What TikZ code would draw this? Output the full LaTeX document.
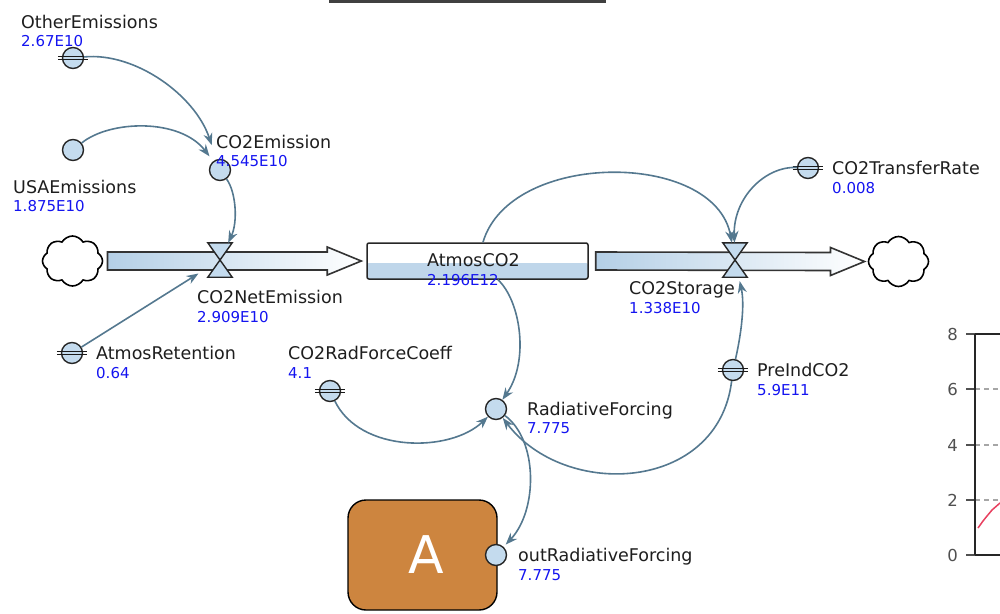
\documentclass[tikz,border=0pt]{standalone}
\usepackage{fontspec}
\setmainfont{DejaVu Sans}
\usetikzlibrary{shapes.symbols, arrows.meta, calc}

\definecolor{linkc}{HTML}{54788F}
\definecolor{auxfill}{HTML}{C4DBEE}
\definecolor{pipeblue}{HTML}{B4CFE6}
\definecolor{valc}{HTML}{1414F0}
\definecolor{txtc}{HTML}{1E1E1E}
\definecolor{modfill}{HTML}{CD853F}
\definecolor{plotred}{HTML}{E8405F}
\definecolor{axisc}{HTML}{505050}

\tikzset{
  aux/.style={circle, draw=black!85, line width=1.4pt, fill=auxfill, minimum size=21pt, inner sep=0pt},
  bars/.style={draw=black!90, line width=1.1pt},
  link/.style={draw=linkc, line width=1.6pt, -{Stealth[length=12pt,width=9pt]}},
  lbl/.style={anchor=base west, inner sep=0pt, text=txtc, font=\fontsize{17.5}{19}\selectfont},
  val/.style={anchor=base west, inner sep=0pt, text=valc, font=\fontsize{15}{17}\selectfont},
  cloudsym/.style={cloud, cloud puffs=8, cloud puff arc=120, aspect=1.2, draw=black, line width=1.6pt, fill=white, minimum width=60pt, minimum height=50pt, inner sep=0pt},
  valvebox/.style={rectangle, minimum width=24pt, minimum height=34pt, inner sep=0pt},
  valveglyph/.style={draw=black!85, line width=1.4pt, fill=auxfill, line join=miter},
  pipe/.style={draw=black!80, line width=1.6pt, left color=pipeblue, right color=white, line join=miter},
  stock/.style={rectangle, draw=black!85, line width=1.5pt, rounded corners=2pt, minimum width=221pt, minimum height=36pt, inner sep=0pt},
  ticklbl/.style={anchor=east, inner sep=0pt, text=axisc, font=\fontsize{16.5}{16}\selectfont},
}

% constant symbol: two horizontal bars across a circle
\newcommand\constbars[1]{%
  \draw[bars] ($(#1.west)+(-4,-1.7)$) -- ($(#1.east)+(4,-1.7)$);
  \draw[bars] ($(#1.west)+(-4,1.7)$) -- ($(#1.east)+(4,1.7)$);}

% flow pipe with arrow head, from centre-line start #1 to tip #2
\newcommand\flowpipe[2]{%
  \draw[pipe] ($(#1)+(0,-9)$) -- ($(#2)+(-34,-9)$) -- ($(#2)+(-34,-14)$) -- (#2)
    -- ($(#2)+(-34,14)$) -- ($(#2)+(-34,9)$) -- ($(#1)+(0,9)$) -- cycle;}

% hourglass valve glyph over a valve node
\newcommand\valveglyph[1]{%
  \draw[valveglyph] (#1.north west) -- (#1.north east) -- (#1.south west) -- (#1.south east) -- cycle;}

\begin{document}
\begin{tikzpicture}[x=1pt,y=-1pt]
\useasboundingbox (0,0) rectangle (1000,613);

% title bar
\fill[black!75] (329,0) rectangle (606,2.5);

% clouds and stock
\node[cloudsym] (src) at (72.5,261) {};
\node[cloudsym] (snk) at (898.5,261.5) {};
\node[stock, fill=white, path picture={
  \shade[left color=pipeblue!85, middle color=pipeblue!15, right color=pipeblue!85]
    (path picture bounding box.south west) rectangle ($(path picture bounding box.east)+(0,2)$);}]
  (stk) at (477.5,261) {};

% flow pipes
\coordinate (p1a) at ($(src.center)+(35,0)$);
\coordinate (p1b) at ($(stk.west)+(-5,0)$);
\coordinate (p2a) at ($(stk.east)+(7,0)$);
\coordinate (p2b) at ($(snk.center)+(-34,0)$);
\flowpipe{p1a}{p1b}
\flowpipe{p2a}{p2b}

% valves
\node[valvebox] (v1) at (220,260) {};
\node[valvebox] (v2) at (735,260) {};
\valveglyph{v1}
\valveglyph{v2}

% auxiliaries and constants
\node[aux] (oth) at (73,58) {};
\node[aux] (usa) at (73,150) {};
\node[aux] (co2e) at (220,170) {};
\node[aux] (ret) at (72,353) {};
\node[aux] (coeff) at (330,391) {};
\node[aux] (rf) at (496,409) {};
\node[aux] (pre) at (733,370) {};
\node[aux] (rate) at (808,168) {};
\constbars{oth}
\constbars{ret}
\constbars{coeff}
\constbars{pre}
\constbars{rate}

% module
\node[draw=black, line width=1.4pt, fill=modfill, rounded corners=18pt, minimum width=149pt,
  minimum height=110pt, text=white, font=\fontsize{52}{52}\selectfont] (mod) at (422.5,555) {\hspace*{8pt}A};
\node[aux] (out) at (496,555) {};

% links
\draw[link, shorten >=15pt] (oth) .. controls (135,52) and (195,95) .. (co2e);
\draw[link, shorten >=6pt] (usa) .. controls (110,120) and (180,118) .. (co2e);
\draw[link] (co2e) .. controls (236,192) and (238,222) .. (v1);
\draw[link, shorten >=11pt] (ret) -- (v1);
\draw[link] (stk) .. controls (510,150) and (715,150) .. (v2);
\draw[link] (rate) .. controls (765,166) and (733,198) .. (v2);
\draw[link, shorten >=4pt] (pre) .. controls (741,335) and (745,305) .. (v2);
\draw[link] (pre) .. controls (718,492) and (565,500) .. (rf);
\draw[link] (stk) .. controls (520,300) and (530,360) .. (rf);
\draw[link] (coeff) .. controls (360,453) and (450,453) .. (rf);
\draw[link, shorten >=3pt] (rf) .. controls (538,440) and (538,510) .. (out);

% names and values
\node[lbl] (othN) at (21,28) {OtherEmissions};
\node[val] (othV) at (21,46.5) {2.67E10};
\node[lbl] (co2eN) at (216,148) {CO2Emission};
\node[val] (co2eV) at (216,166.5) {4.545E10};
\node[lbl] (usaN) at (13,193) {USAEmissions};
\node[val] (usaV) at (13,211.5) {1.875E10};
\node[lbl] (v1N) at (197,303) {CO2NetEmission};
\node[val] (v1V) at (197,322.5) {2.909E10};
\node[lbl] (retN) at (96,359) {AtmosRetention};
\node[val] (retV) at (96,378.5) {0.64};
\node[lbl] (coeffN) at (288,359) {CO2RadForceCoeff};
\node[val] (coeffV) at (288,378.5) {4.1};
\node[lbl] (rfN) at (527,415) {RadiativeForcing};
\node[val] (rfV) at (527,433.5) {7.775};
\node[lbl] (preN) at (757,376) {PreIndCO2};
\node[val] (preV) at (757,395.5) {5.9E11};
\node[lbl] (rateN) at (832,174) {CO2TransferRate};
\node[val] (rateV) at (832,193.5) {0.008};
\node[lbl] (v2N) at (629,294) {CO2Storage};
\node[val] (v2V) at (629,313.5) {1.338E10};
\node[lbl] (stkN) at (427,266) {AtmosCO2};
\node[val] (stkV) at (427,285.5) {2.196E12};
\node[lbl] (outN) at (518,561) {outRadiativeForcing};
\node[val] (outV) at (518,580.5) {7.775};

% graph panel
\foreach \yy in {389,445,500}
  \draw[black!35, line width=1.2pt, dash pattern=on 5pt off 4pt] (975,\yy) -- (1000,\yy);
\foreach \yy in {334,389,445,500,555}
  \draw[axisc, line width=1.3pt] (966,\yy) -- (975,\yy);
\draw[black!85, line width=1.5pt] (975,334) -- (975,555);
\draw[black!85, line width=1.5pt] (975,334) -- (1000,334);
\draw[black!85, line width=1.5pt] (975,555) -- (1000,555);
\node[ticklbl] (t8) at (958,334) {8};
\node[ticklbl] (t6) at (958,389) {6};
\node[ticklbl] (t4) at (958,445) {4};
\node[ticklbl] (t2) at (958,500) {2};
\node[ticklbl] (t0) at (958,555) {0};
\draw[plotred, line width=1.5pt] (978,528) -- (983,521) -- (987,516) -- (992,510) -- (1000,503);
\end{tikzpicture}
\end{document}
